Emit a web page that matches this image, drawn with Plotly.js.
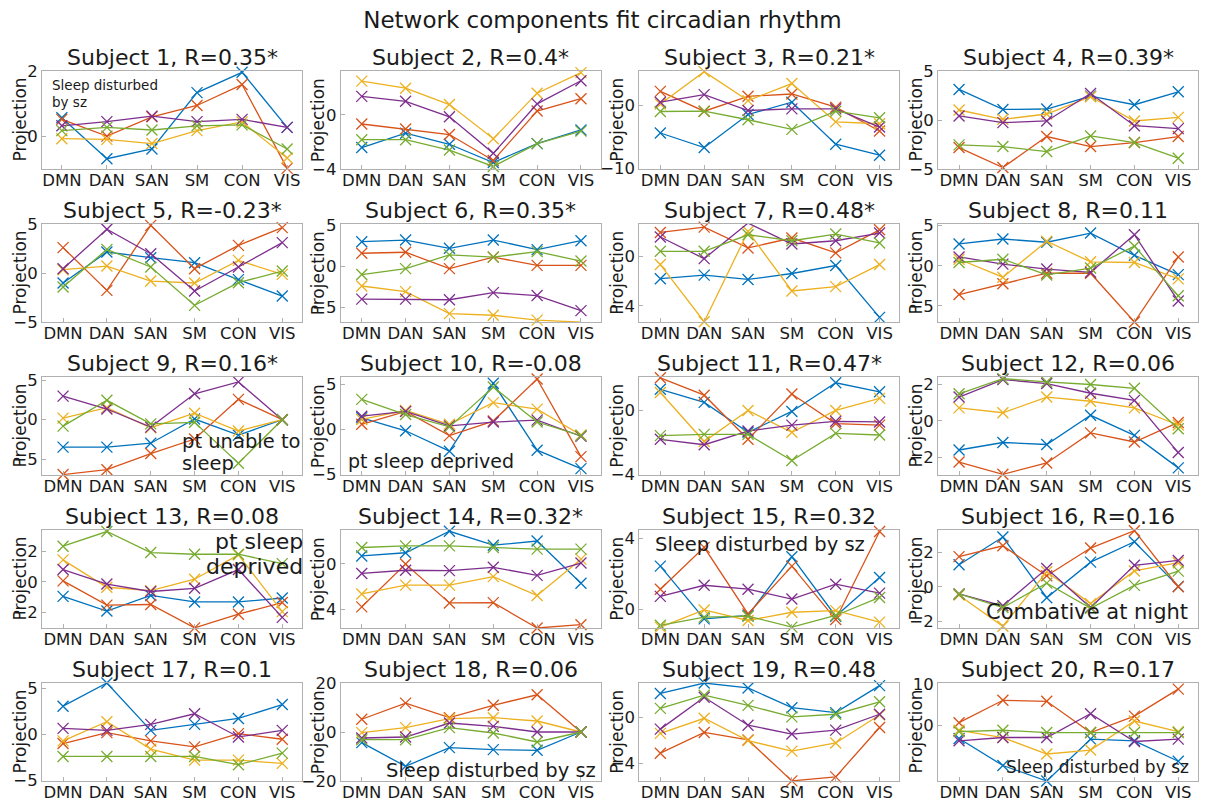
<!DOCTYPE html>
<html>
<head>
<meta charset="utf-8">
<script src="https://cdn.plot.ly/plotly-3.0.1.min.js"></script>
<style>
  html, body { margin: 0; padding: 0; background: #ffffff; }
  #chart { width: 1205px; height: 801px; }
</style>
</head>
<body>
<div id="chart"></div>
<script>
// Network labels along every x axis
const networks = ['DMN', 'DAN', 'SAN', 'SM', 'CON', 'VIS'];

// Correlation with circadian rhythm per subject (* = significant)
const subjectR = ['0.35*', '0.4*', '0.21*', '0.39*', '-0.23*', '0.35*', '0.48*', '0.11',
                  '0.16*', '-0.08', '0.47*', '0.06', '0.08', '0.32*', '0.32', '0.16',
                  '0.1', '0.06', '0.48', '0.17'];

// Projection of each network component, one row per component (1..5)
const subj1 = [
  [0.57, -0.70, -0.40, 1.35, 1.98, 0.27],
  [0.52, 0.00, 0.60, 0.95, 1.60, -1.00],
  [-0.08, -0.10, -0.23, 0.17, 0.44, -0.68],
  [0.32, 0.45, 0.62, 0.45, 0.52, 0.27],
  [0.17, 0.27, 0.19, 0.32, 0.35, -0.40]];
const subj2 = [
  [-2.41, -1.35, -2.17, -3.52, -2.12, -1.11],
  [-0.67, -1.04, -1.45, -3.37, 0.29, 1.20],
  [2.50, 1.98, 0.77, -1.76, 1.61, 3.13],
  [1.37, 1.01, -0.14, -2.84, 0.82, 2.53],
  [-1.83, -1.83, -2.60, -3.81, -2.12, -1.20]];
const subj3 = [
  [-4.37, -6.68, -1.42, 0.53, -6.16, -7.90],
  [2.26, -0.90, 1.47, 1.84, -0.26, -4.05],
  [0.26, 5.40, 0.79, 3.50, -2.60, -2.90],
  [0.53, 1.74, -0.79, -0.53, -0.53, -3.42],
  [-0.95, -0.90, -2.26, -3.79, -0.90, -1.95]];
const subj4 = [
  [3.12, 1.08, 1.12, 2.44, 1.56, 2.88],
  [-2.81, -4.85, -1.69, -2.71, -2.30, -1.69],
  [1.02, 0.07, 0.61, 2.37, -0.10, 0.27],
  [0.41, -0.27, -0.10, 2.71, -0.58, -0.88],
  [-2.54, -2.71, -3.22, -1.63, -2.30, -3.90]];
const subj5 = [
  [-1.02, 2.14, 1.56, 1.05, -0.68, -2.35],
  [2.59, -1.77, 4.86, 0.44, 2.82, 4.63],
  [0.34, 0.71, -0.82, -1.02, 1.29, -0.14],
  [0.44, 4.46, 1.97, -1.84, 0.61, 3.10],
  [-1.43, 2.41, 0.61, -3.30, -0.99, 0.20]];
const subj6 = [
  [2.95, 3.15, 2.15, 3.15, 1.99, 3.07],
  [1.55, 1.67, -0.32, 1.08, 0.08, 0.08],
  [-2.43, -3.11, -5.78, -5.98, -6.57, -6.81],
  [-4.02, -4.02, -4.10, -3.23, -3.59, -5.42],
  [-1.04, -0.32, 1.35, 1.08, 1.75, 0.60]];
const subj7 = [
  [-1.81, -1.52, -1.87, -1.39, -0.75, -4.93],
  [1.92, 2.35, 0.67, 1.47, 0.27, 2.13],
  [-0.67, -5.28, 2.00, -2.80, -2.45, -0.67],
  [1.55, -0.19, 2.67, 0.99, 1.25, 1.87],
  [0.40, 0.40, 1.73, 1.25, 1.79, 1.07]];
const subj8 = [
  [2.72, 3.33, 2.93, 4.07, 1.30, -1.10],
  [-3.58, -2.24, -0.93, -0.93, -7.00, 1.10],
  [0.81, -1.42, 3.05, 0.49, 0.41, -1.63],
  [1.10, 0.20, -0.41, -0.81, 3.86, -4.39],
  [0.41, 0.81, -1.14, -0.28, 2.44, -3.74]];
const subj9 = [
  [-3.47, -3.47, -2.98, 0.08, -1.96, 0],
  [-6.94, -6.33, -4.29, -2.45, 2.57, 0],
  [0.20, 1.51, -1.02, 0.82, -1.43, 0],
  [2.98, 1.35, -0.94, 3.27, 4.78, 0],
  [-0.82, 2.45, -0.53, -0.33, -5.51, 0]];
const subj10 = [
  [1.26, -0.18, -2.45, 5.10, -2.34, -4.39],
  [0.54, 1.98, -0.72, 0.90, 5.58, -3.06],
  [1.08, 2.09, 0.54, 2.95, 2.23, -0.65],
  [1.44, 1.98, 0.36, 0.79, 1.00, -0.79],
  [3.31, 1.62, 0.25, 4.68, 0.79, -0.72]];
const subj11 = [
  [1.33, 0.51, -1.37, -0.06, 1.74, 1.17],
  [2.05, 0.96, -1.81, 1.03, -0.82, -0.92],
  [1.13, -1.95, 0.00, -1.37, 0.00, 0.76],
  [-1.81, -2.15, -1.29, -0.92, -0.68, -0.72],
  [-1.58, -1.50, -1.50, -3.14, -1.44, -1.54]];
const subj12 = [
  [-1.60, -1.19, -1.30, 0.30, -0.80, -2.58],
  [-2.26, -2.93, -2.31, -0.66, -1.16, -0.09],
  [0.71, 0.44, 1.30, 1.07, 0.71, -0.23],
  [1.30, 2.26, 2.04, 1.51, 1.12, -1.74],
  [1.48, 2.31, 2.13, 1.99, 1.78, -0.44]];
const subj13 = [
  [-0.96, -1.93, -0.90, -1.33, -1.33, -1.07],
  [0.06, -1.54, -1.50, -3.04, -2.14, -1.37],
  [1.45, -0.36, -0.58, 0.17, 1.78, -1.97],
  [0.81, -0.15, -0.64, -0.43, 0.81, -2.35],
  [2.35, 3.32, 1.93, 1.82, 1.82, 1.20]];
const subj14 = [
  [0.68, 0.96, 2.84, 1.62, 1.99, -1.70],
  [-3.77, -0.03, -3.43, -3.40, -5.62, -5.33],
  [-2.64, -1.87, -1.87, -1.13, -2.78, 0.40],
  [-0.85, -0.57, -0.60, -0.31, -1.02, 0.06],
  [1.42, 1.56, 1.56, 1.42, 1.28, 1.28]];
const subj15 = [
  [2.43, -0.52, -0.33, 2.95, -0.37, 1.79],
  [1.14, 3.48, -0.24, 2.43, -0.55, 4.37],
  [-0.98, -0.02, -0.61, -0.15, -0.06, -0.70],
  [0.74, 1.36, 1.14, 0.59, 1.42, 0.92],
  [-0.88, -0.42, -0.37, -0.98, -0.33, 0.68]];
const subj16 = [
  [1.28, 2.89, -0.64, 1.43, 2.62, 0.02],
  [1.75, 2.38, 0.64, 2.25, 3.26, 0.00],
  [-0.49, -2.30, 0.87, -0.98, 0.92, 1.40],
  [-0.42, -1.11, 1.06, -1.21, 1.25, 1.53],
  [-0.42, -1.21, 0.21, -1.25, 0.08, 0.91]];
const subj17 = [
  [3.07, 5.60, 0.43, 1.08, 1.73, 3.25],
  [-1.01, 0.18, -0.72, -1.37, 0.07, -0.54],
  [-0.72, 1.37, -1.62, -2.82, -2.82, -3.18],
  [0.65, 0.43, 1.08, 2.24, -0.29, 0.43],
  [-2.42, -2.42, -2.42, -2.42, -3.32, -2.06]];
const subj18 = [
  [-4.35, -14.0, -6.39, -7.21, -7.48, 0],
  [5.20, 11.8, 5.85, 10.9, 15.2, 0],
  [-0.27, 1.77, 5.44, 5.85, 4.49, 0],
  [-2.45, -2.04, 3.67, 2.31, 0.00, 0],
  [-3.13, -3.13, 1.77, -0.41, -4.08, 0]];
const subj19 = [
  [2.09, 3.00, 2.57, 0.86, 0.43, 2.77],
  [-3.09, -1.29, -1.94, -5.49, -5.14, -0.86],
  [-1.37, -0.06, -2.00, -2.91, -2.20, 0.23],
  [-1.00, 1.77, -0.66, -1.43, -1.09, 0.29],
  [0.80, 1.94, 1.06, 0.06, 0.29, 1.37]];
const subj20 = [
  [-3.28, -9.84, -13.6, -3.44, -3.84, -8.80],
  [0.56, 6.00, 5.76, -1.84, 2.16, 8.72],
  [-1.28, -3.04, -7.04, -6.08, 0.96, -1.60],
  [-3.84, -3.04, -3.04, 2.72, -4.00, -3.44],
  [-1.60, -1.28, -1.84, -1.84, -1.84, -1.84]];

const subjects = [subj1, subj2, subj3, subj4, subj5, subj6, subj7, subj8, subj9, subj10,
                  subj11, subj12, subj13, subj14, subj15, subj16, subj17, subj18, subj19, subj20];

// ---- styling / layout ----
const W = 1205, H = 801;
const FONT = 'DejaVu Sans, Verdana, sans-serif';
const INK = '#1a1a1a';
const compColors = ['#0072BD', '#D95319', '#EDB120', '#7E2F8E', '#77AC30'];

// axis boxes in pixels
const colLeft = [42, 340.7, 639.3, 938];
const boxW = 260;
const rowTop = [71, 224, 377, 530, 683];
const boxH = 98;

// y limits and labelled ticks of each panel
const yLimits = [
  [-1.02, 2.02], [-4, 3.25], [-10.1, 5.5], [-5, 5],
  [-5, 5], [-6.8, 5.1], [-5.3, 2.6], [-7, 5.2],
  [-7, 5.4], [-5.1, 5.8], [-4.05, 2.1], [-2.97, 2.4],
  [-3.05, 3.42], [-5.62, 2.95], [-1.03, 4.45], [-2.4, 3.3],
  [-5.1, 5.6], [-20, 20], [-5.5, 3.0], [-13.6, 10.2]];
const yTicks = [
  [0, 2], [-4, 0], [-10, 0], [-5, 0, 5],
  [-5, 0, 5], [-5, 0, 5], [-4, 0], [-5, 0, 5],
  [-5, 0, 5], [-5, 0, 5], [-4, 0], [-2, 0, 2],
  [-2, 0, 2], [-4, 0], [0, 4], [-2, 0, 2],
  [-5, 0, 5], [-20, 0, 20], [-4, 0], [0, 10]];

const traces = [];
const layout = {
  width: W, height: H, autosize: false,
  margin: {l: 0, r: 0, t: 0, b: 0},
  paper_bgcolor: '#ffffff', plot_bgcolor: '#ffffff',
  showlegend: false,
  font: {family: FONT, color: INK},
  title: {
    text: 'Network components fit circadian rhythm',
    font: {family: FONT, size: 23, color: INK},
    x: 0.5, xanchor: 'center', y: 1 - 20 / H, yanchor: 'middle'
  },
  annotations: []
};

subjects.forEach((comps, i) => {
  const row = Math.floor(i / 4), col = i % 4;
  const n = i + 1;
  const xa = 'x' + (n === 1 ? '' : n), ya = 'y' + (n === 1 ? '' : n);
  const top = rowTop[row], bottom = rowTop[row] + boxH;
  const left = colLeft[col], right = colLeft[col] + boxW;

  comps.forEach((vals, k) => {
    traces.push({
      type: 'scatter', mode: 'lines+markers',
      x: [1, 2, 3, 4, 5, 6], y: vals,
      xaxis: xa, yaxis: ya,
      line: {color: compColors[k], width: 1.3},
      marker: {symbol: 'x-thin', size: 11, line: {color: compColors[k], width: 1.3}},
      cliponaxis: false,
      hoverinfo: 'skip'
    });
  });

  const axisCommon = {
    showline: true, mirror: true, linecolor: '#b0b0b0', linewidth: 1,
    ticks: 'inside', ticklen: 4, tickcolor: '#b0b0b0', tickwidth: 1,
    showgrid: false, zeroline: false, fixedrange: true,
    tickfont: {family: FONT, size: 16.5, color: INK}
  };
  const xr = (n === 1) ? [0.56, 6.33] : [0.52, 6.45];
  layout['xaxis' + (n === 1 ? '' : n)] = Object.assign({}, axisCommon, {
    domain: [left / W, right / W],
    anchor: ya, range: xr,
    tickmode: 'array', tickvals: [1, 2, 3, 4, 5, 6], ticktext: networks,
    ticklabelstandoff: -4
  });
  layout['yaxis' + (n === 1 ? '' : n)] = Object.assign({}, axisCommon, {
    domain: [1 - bottom / H, 1 - top / H],
    anchor: xa, range: yLimits[i],
    tickmode: 'array', tickvals: yTicks[i], ticklabelstandoff: 0
  });

  // panel title
  layout.annotations.push({
    text: 'Subject ' + n + ', R=' + subjectR[i],
    xref: 'paper', yref: 'paper',
    x: (left + right) / 2 / W, y: 1 - top / H,
    xanchor: 'center', yanchor: 'middle', yshift: 14,
    showarrow: false, font: {family: FONT, size: 22, color: INK}
  });
  // y axis label
  layout.annotations.push({
    text: 'Projection',
    xref: 'paper', yref: 'paper',
    x: left / W, y: 1 - (top + boxH / 2) / H,
    xanchor: 'center', yanchor: 'middle', xshift: -22.5, textangle: -90,
    showarrow: false, font: {family: FONT, size: 17, color: INK}
  });
});

// notes written inside individual panels
function note(n, text, x, y, xanchor, size) {
  const s = (n === 1 ? '' : n);
  layout.annotations.push({
    text: text, xref: 'x' + s + ' domain', yref: 'y' + s + ' domain',
    x: x, y: y, xanchor: xanchor, yanchor: 'middle', showarrow: false,
    font: {family: FONT, size: size, color: INK}
  });
}
note(1, 'Sleep disturbed', 0.03, 0.857, 'left', 13.5);
note(1, 'by sz', 0.03, 0.68, 'left', 13.5);
note(9, 'pt unable to', 0.53, 0.34, 'left', 19.5);
note(9, 'sleep', 0.53, 0.12, 'left', 19.5);
note(10, 'pt sleep deprived', 0.02, 0.14, 'left', 19);
note(13, 'pt sleep', 1.01, 0.88, 'right', 22);
note(13, 'deprived', 1.01, 0.63, 'right', 22);
note(15, 'Sleep disturbed by sz', 0.465, 0.855, 'center', 19.5);
note(16, 'Combative at night', 0.177, 0.16, 'left', 21);
note(18, 'Sleep disturbed by sz', 0.99, 0.11, 'right', 19.5);
note(20, 'Sleep disturbed by sz', 0.973, 0.146, 'right', 17);

Plotly.newPlot('chart', traces, layout, {displayModeBar: false, staticPlot: true});
</script>
</body>
</html>
